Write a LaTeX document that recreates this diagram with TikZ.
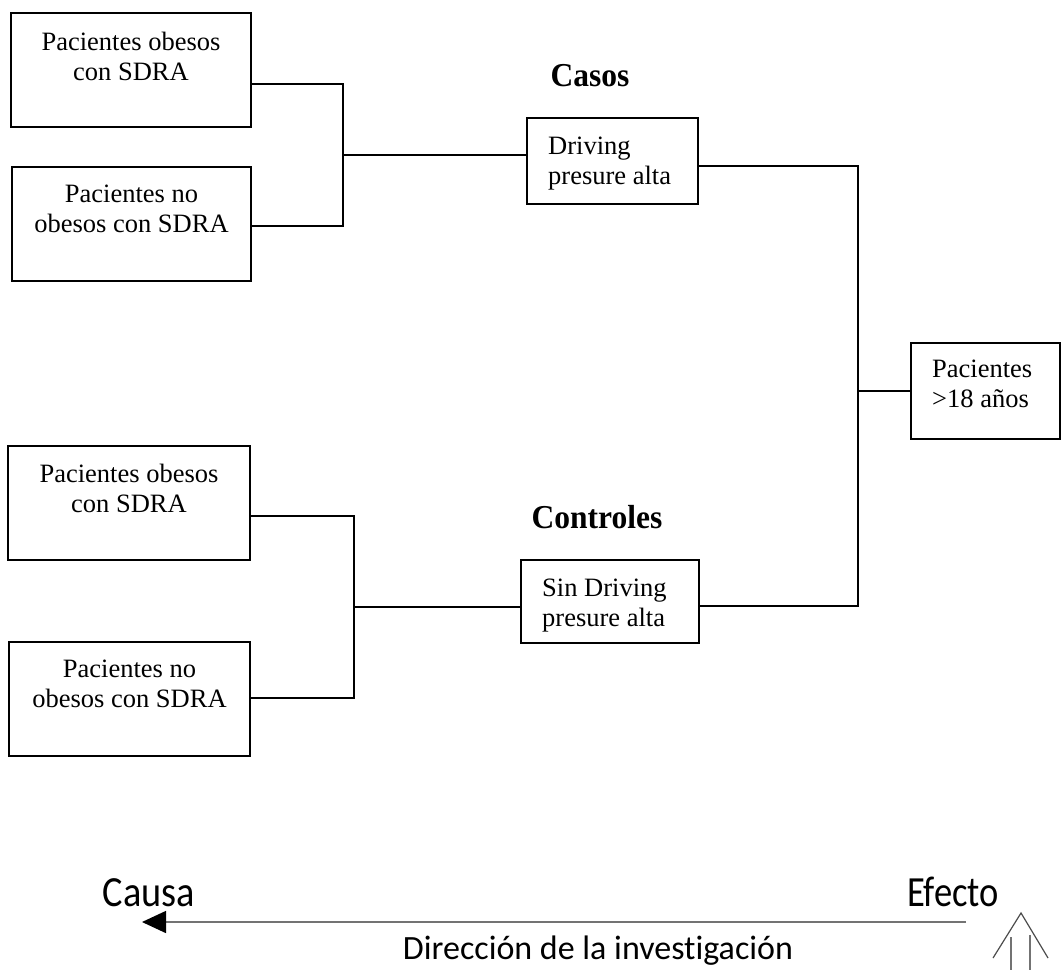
\documentclass[tikz,border=0pt]{standalone}
\usepackage{fontspec}
\setmainfont{Liberation Serif}
\newfontfamily\sansf[Ligatures=NoCommon]{Carlito}
\usetikzlibrary{arrows.meta}
\begin{document}
\begin{tikzpicture}[x=1pt,y=-1pt,
  box/.style={draw=black, line width=1.3pt, inner sep=0pt, minimum height=114pt},
  txt/.style={inner sep=0pt, align=center, font=\fontsize{26.5}{29.5}\selectfont},
  txtl/.style={inner sep=0pt, align=left, font=\fontsize{26.5}{30}\selectfont},
  head/.style={inner sep=0pt, yscale=1.06, font=\fontsize{31.5}{34}\selectfont\bfseries},
  conn/.style={line width=1.3pt, black},
  sanslbl/.style={inner sep=0pt, font=\sansf\fontsize{43}{46}\selectfont},
  dirlbl/.style={inner sep=0pt, font=\sansf\fontsize{34}{38}\selectfont},
  grayline/.style={line width=1.5pt, draw=black!55}
]
\useasboundingbox (0,0) rectangle (1062,970);

% Left boxes
\node[box, minimum width=240pt] (b1) at (131,70) {};
\node[txt, anchor=north] (t1) at (131,32) {Pacientes obesos\\con SDRA};
\node[box, minimum width=239pt] (b2) at (131.5,224) {};
\node[txt, anchor=north] (t2) at (131.5,185) {Pacientes no\\obesos con SDRA};
\node[box, minimum width=242pt] (b3) at (129,503) {};
\node[txt, anchor=north] (t3) at (129,464) {Pacientes obesos\\con SDRA};
\node[box, minimum width=241pt] (b4) at (129.5,699) {};
\node[txt, anchor=north] (t4) at (129.5,660) {Pacientes no\\obesos con SDRA};

% Middle boxes
\node[box, minimum width=171pt, minimum height=86pt] (d1) at (612.5,161) {};
\node[txtl, anchor=north west] (td1) at (548,137) {Driving\\presure alta};
\node[box, minimum width=178pt, minimum height=83pt] (d2) at (610,601.5) {};
\node[txtl, anchor=north west] (td2) at (542,579) {Sin Driving\\presure alta};

% Right box
\node[box, minimum width=149pt, minimum height=96pt] (p) at (985.5,391) {};
\node[txtl, anchor=north west] (tp) at (932,360) {Pacientes\\>18 años};

% Headings
\node[head, anchor=base] (casos) at (590,86) {Casos};
\node[head, anchor=base] (controles) at (597,528) {Controles};

% Junctions
\coordinate (j1) at (343,155);
\coordinate (j2) at (354,607);
\coordinate (v1) at (858,166);
\coordinate (v2) at (858,606);

% Connectors
\draw[conn] ([yshift=-14pt]b1.east) -| (j1) |- ([yshift=-2pt]b2.east);
\draw[conn] (j1) -- (d1.west |- j1);
\draw[conn] ([yshift=-13pt]b3.east) -| (j2) |- ([yshift=1pt]b4.east);
\draw[conn] (j2) -- (d2.west |- j2);
\draw[conn] ([yshift=-5pt]d1.east) -- (v1) -- (v2) -- (d2.east |- v2);
\draw[conn] (v1 |- p.west) -- (p.west);

% Bottom: direction of investigation
\node[sanslbl, anchor=base, xscale=0.89] (causa) at (149,906) {Causa};
\node[sanslbl, anchor=base, xscale=0.85] (efecto) at (953,906) {Efecto};
\node[dirlbl, anchor=base] (dir) at (598,959) {Dirección de la investigación};
\coordinate (aR) at (966,922);
\coordinate (aL) at (142,922);
\draw[grayline, -{Triangle[length=24pt,width=22pt,color=black]}] (aR) -- (aL);

% Hollow upward arrow
\coordinate (hA) at (1021,913);
\coordinate (hL) at (993,958);
\coordinate (hR) at (1048,958);
\draw[line width=1.2pt, draw=black!70] (hL) -- (hA) -- (hR);
\draw[line width=1.2pt, draw=black!55] (1011,937) -- (1011,970);
\draw[line width=1.2pt, draw=black!55] (1030,935) -- (1030,970);
\end{tikzpicture}
\end{document}
